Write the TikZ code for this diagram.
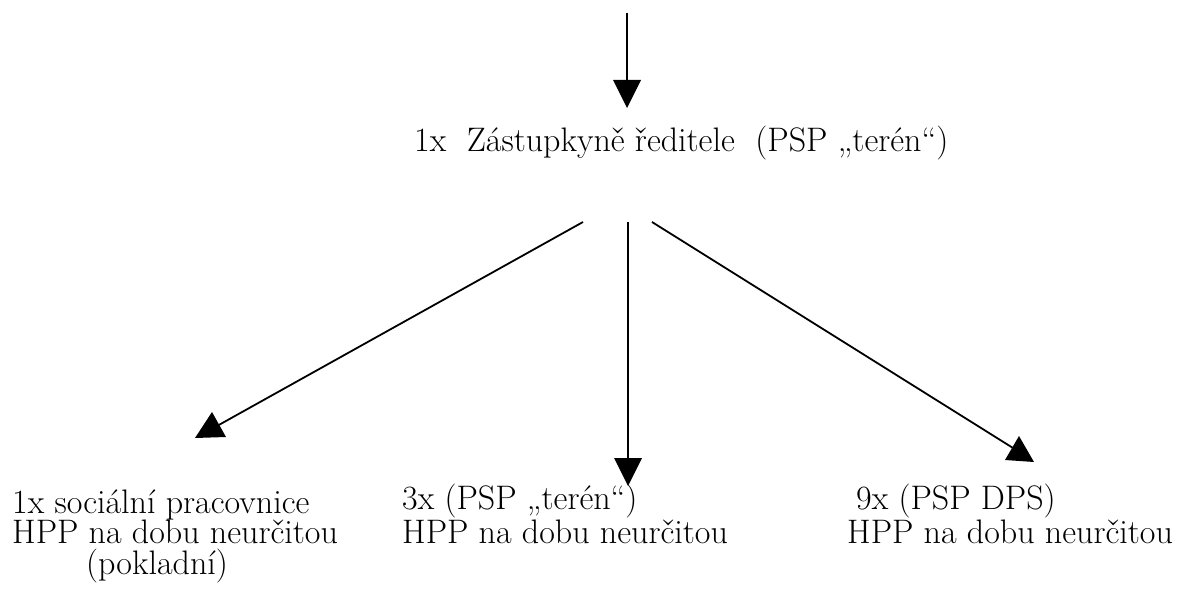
\documentclass[tikz,border=0pt]{standalone}
\usepackage{fontspec}
\begin{document}
\begin{tikzpicture}[x=1pt,y=-1pt,
  lbl/.style={inner sep=0pt,anchor=base west,align=left,font=\fontsize{34}{30.5}\selectfont},
  conn/.style={line width=1.8pt},
  head/.style={fill=black}]
\useasboundingbox (0,0) rectangle (1187,607);
% texts (anchor = baseline of the last line)
\node[lbl] (boss) at (414,152) {1x\ \ Zástupkyně ředitele\ \ (PSP „terén“)};
\node[lbl] (soc) at (12,574) {1x sociální pracovnice\\HPP na dobu neurčitou\\\hspace*{74pt}(pokladní)};
\node[lbl] (ter) at (402,543) {3x (PSP „terén“)\\HPP na dobu neurčitou};
\node[lbl] (dps) at (847,543) {\hspace*{9pt}9x (PSP DPS)\\HPP na dobu neurčitou};
% connector ends
\coordinate (top) at (627,13);
\coordinate (tA) at (627,80);
\coordinate (sL) at (583,222);
\coordinate (sM) at (628,222);
\coordinate (sR) at (652,222);
\coordinate (eL) at (217,426);
\coordinate (eM) at (628,458);
\coordinate (eR) at (1013,448);
% lines
\draw[conn] (top) -- (tA);
\draw[conn] (sL) -- (eL);
\draw[conn] (sM) -- (eM);
\draw[conn] (sR) -- (eR);
% arrowheads
\fill[head] (613,80) -- (641,80) -- (627,108) -- cycle;
\fill[head] (212,412) -- (226,437) -- (195,438) -- cycle;
\fill[head] (614,458) -- (642,458) -- (628,486) -- cycle;
\fill[head] (1019,436) -- (1034,462) -- (1005,460) -- cycle;
\end{tikzpicture}
\end{document}
